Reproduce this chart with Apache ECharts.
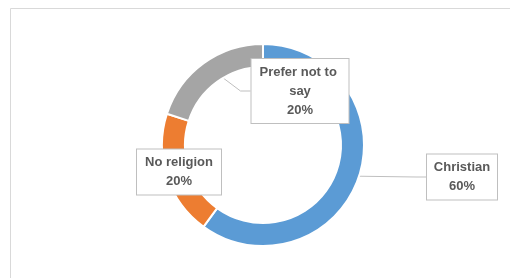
<!DOCTYPE html>
<html>
    <head>
        <meta charset="utf-8">
        <title>Religion</title>
        <script src="https://cdn.jsdelivr.net/npm/echarts@6/dist/echarts.min.js"></script>
        <style>
            html, body { margin: 0; padding: 0; background: #fff; }
            #chart1 { width: 510px; height: 278px; }
        </style>
    </head>
    <body>
        <div id="chart1"></div>
        <script type="text/javascript">
            var categories = ['Christian', 'No religion', 'Prefer not to say'];
            var shares = [60, 20, 20];
            var colors = ['#5B9BD5', '#ED7D31', '#A5A5A5'];

            // where the callout boxes sit (centre of each box)
            var labelSpots = [[462, 177], [179, 172], [300, 91]];
            var labelWidths = [58, 72, 85];

            var myChart1 = echarts.init(document.getElementById('chart1'));
            myChart1.setOption({
                animation: false,
                graphic: [
                    { type: 'line', shape: { x1: 10.5, y1: 8.5, x2: 510, y2: 8.5 }, style: { stroke: '#d9d9d9', lineWidth: 1 } },
                    { type: 'line', shape: { x1: 10.5, y1: 8.5, x2: 10.5, y2: 278 }, style: { stroke: '#d9d9d9', lineWidth: 1 } }
                ],
                series: [
                    {
                        type: 'pie',
                        center: [263, 145],
                        radius: [78, 101],
                        startAngle: 90,
                        clockwise: true,
                        avoidLabelOverlap: false,
                        itemStyle: { borderColor: '#fff', borderWidth: 2 },
                        label: {
                            show: true,
                            position: 'outside',
                            formatter: '{b}\n{d}%',
                            fontFamily: 'Liberation Sans',
                            fontWeight: 'bold',
                            fontSize: 13,
                            lineHeight: 19,
                            color: '#595959',
                            backgroundColor: '#fff',
                            borderColor: '#bfbfbf',
                            borderWidth: 1,
                            padding: [4, 6, 3, 6],
                            overflow: 'break',
                            align: 'center'
                        },
                        labelLine: {
                            show: true,
                            length: 10,
                            length2: 10,
                            lineStyle: { color: '#bfbfbf', width: 1 }
                        },
                        labelLayout: function (p) {
                            var s = labelSpots[p.dataIndex];
                            return { x: s[0], y: s[1], align: 'center', verticalAlign: 'middle' };
                        },
                        data: categories.map(function (c, i) {
                            return {
                                name: c,
                                value: shares[i],
                                itemStyle: { color: colors[i] },
                                label: { width: labelWidths[i] }
                            };
                        })
                    }
                ]
            });
        </script>
    </body>
</html>
